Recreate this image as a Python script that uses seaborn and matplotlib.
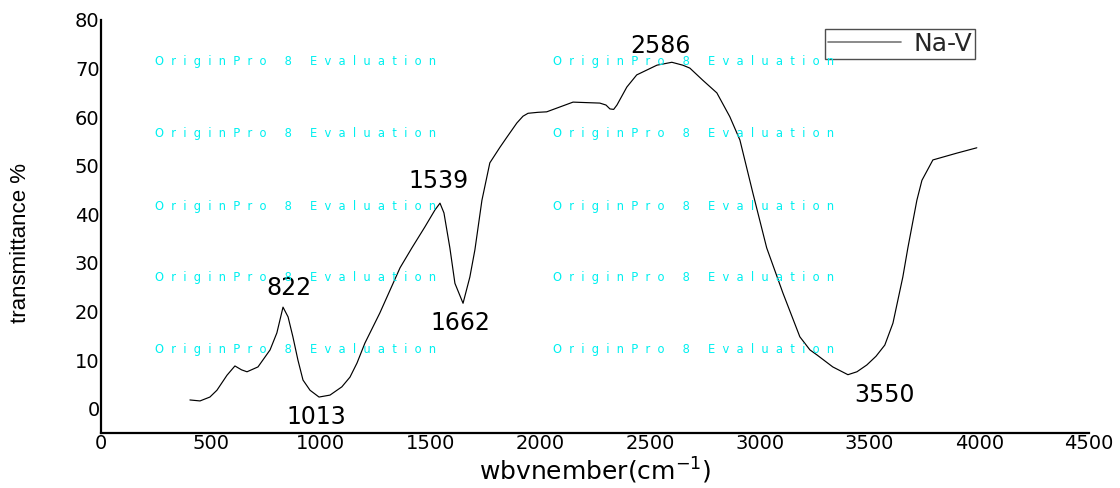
import numpy as np
import pandas as pd
import matplotlib
matplotlib.use("Agg")
import matplotlib.pyplot as plt
import seaborn as sns
from matplotlib import font_manager
from matplotlib.ticker import FixedLocator

# ---- data ----
wavenumber = [405, 451, 496, 528, 574, 610, 640, 665, 715, 770, 801, 829, 852, 874, 897,
              920, 952, 993, 1043, 1097, 1134, 1166, 1202, 1270, 1362, 1416, 1475,
              1521, 1544, 1562, 1589, 1612, 1649, 1680, 1703, 1735, 1771, 1817, 1849,
              1894, 1922, 1945, 1990, 2030, 2090, 2150, 2210, 2272, 2300, 2318, 2335,
              2350, 2395, 2440, 2486, 2532, 2600, 2650, 2682, 2741, 2805, 2864, 2910,
              2969, 3032, 3106, 3183, 3229, 3260, 3333, 3402, 3443, 3488, 3530, 3570,
              3607, 3652, 3675, 3716, 3739, 3789, 3898, 3989]
transmittance = [1.8, 1.6, 2.4, 3.8, 6.9, 8.8, 8.0, 7.6, 8.6, 12.1, 15.6, 20.9, 18.9, 14.8, 10.0,
                 5.9, 3.8, 2.4, 2.8, 4.5, 6.5, 9.4, 13.5, 19.7, 29.0, 33.1, 37.4,
                 40.9, 42.3, 40.3, 33.1, 25.8, 21.7, 27.1, 32.7, 42.9, 50.6, 53.8, 55.9,
                 58.8, 60.2, 60.8, 61.0, 61.1, 62.1, 63.1, 63.0, 62.9, 62.5, 61.7, 61.6,
                 62.5, 66.2, 68.7, 69.7, 70.7, 71.3, 70.7, 70.1, 67.6, 65.0, 60.1, 55.3,
                 44.4, 33.1, 23.8, 14.8, 12.1, 11.1, 8.6, 7.0, 7.6, 9.0, 10.8, 13.1,
                 17.6, 27.1, 33.1, 42.9, 47.0, 51.2, 52.6, 53.7]
series_name = "Na-V"

peak_labels = ["822", "1013", "1539", "1662", "2586", "3550"]
peak_label_x = [856, 979, 1539, 1639, 2546, 3570]
peak_label_y = [24.8, -1.8, 46.9, 17.6, 74.6, 2.9]

x_ticks = [0, 500, 1000, 1500, 2000, 2500, 3000, 3500, 4000, 4500]
y_ticks = [0, 10, 20, 30, 40, 50, 60, 70, 80]

x_label = r"wbvnember(cm$^{\mathregular{-1}}$)"
y_label = "transmittance %"
watermark = "OriginPro 8 Evaluation"

# ---- style ----
sns.set_theme(style="white")
plt.rcParams["font.family"] = ["DejaVu Sans"]
plt.rcParams["mathtext.default"] = "regular"

names = {f.name for f in font_manager.fontManager.ttflist}
ylab_font = "Liberation Sans Narrow" if "Liberation Sans Narrow" in names else "Liberation Sans"
ylab_size = 19 if ylab_font == "Liberation Sans Narrow" else 16

df = pd.DataFrame({"wavenumber": wavenumber, "transmittance": transmittance})

fig = plt.figure(figsize=(11.2, 4.88), dpi=100)
ax = fig.add_axes([101 / 1120, 1 - 433 / 488, 988 / 1120, 413 / 488])

sns.lineplot(data=df, x="wavenumber", y="transmittance", sort=False,
             color="black", linewidth=0.85, label=series_name, ax=ax)

ax.set_xlim(0, 4500)
ax.set_ylim(-5, 80)
ax.xaxis.set_major_locator(FixedLocator(x_ticks))
ax.yaxis.set_major_locator(FixedLocator(y_ticks))
ax.xaxis.set_minor_locator(FixedLocator([250 + 500 * i for i in range(9)]))
ax.tick_params(axis="x", which="major", length=0, pad=1, labelsize=14, colors="black")
ax.tick_params(axis="x", which="minor", length=4, width=0.8, direction="in", color="#555555")
ax.tick_params(axis="y", which="major", length=0, pad=1, labelsize=14, colors="black")

for s in ["top", "right"]:
    ax.spines[s].set_visible(False)
for s in ["left", "bottom"]:
    ax.spines[s].set_color("black")
    ax.spines[s].set_linewidth(1.6)

ax.set_xlabel(x_label, fontsize=18, labelpad=2, color="black")
ax.set_ylabel(y_label, fontsize=ylab_size, family=[ylab_font, "DejaVu Sans"], color="black")
ax.yaxis.set_label_coords(-0.071, 0.46)

# watermark rows
wm_text = "     ".join("  ".join(list(w)) for w in watermark.split(" "))
for fy in [62, 134, 206, 278, 350]:
    for fx in [155, 553]:
        fig.text(fx / 1120, 1 - fy / 488, wm_text, color="#00f0f0", fontsize=8.3,
                 ha="left", va="center")

# peak labels
for lab, lx, ly in zip(peak_labels, peak_label_x, peak_label_y):
    ax.text(lx, ly, lab, fontsize=17, ha="center", va="center", color="black")

leg = ax.legend(loc="upper left", bbox_to_anchor=(0.733, 0.978), borderaxespad=0,
                fontsize=18, frameon=True, fancybox=False, handlelength=2.9,
                handletextpad=0.5, borderpad=0.12)
leg.get_frame().set_edgecolor("#222222")
leg.get_frame().set_linewidth(1.0)
for h in leg.get_lines():
    h.set_color("#777777")
    h.set_linewidth(1.2)

fig.savefig("out.png", dpi=100)
